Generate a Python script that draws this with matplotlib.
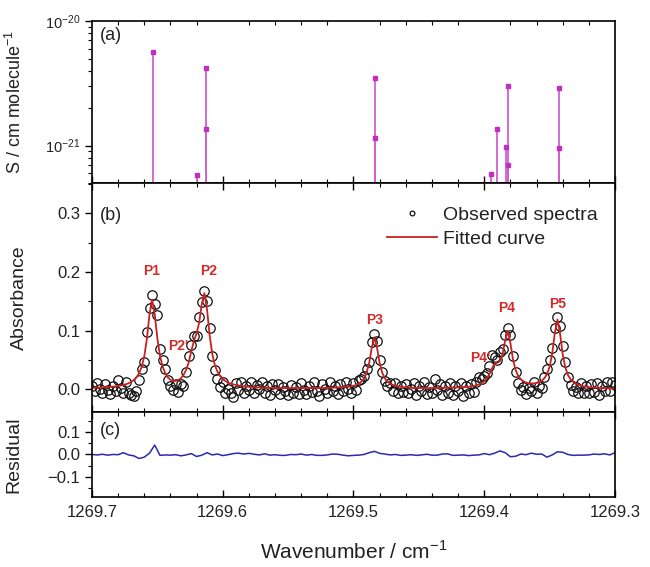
import matplotlib
matplotlib.use("Agg")
import matplotlib.pyplot as plt
from matplotlib.ticker import MultipleLocator, LogLocator, NullFormatter

plt.rcParams['font.family'] = ['Liberation Sans', 'DejaVu Sans']
plt.rcParams['mathtext.fontset'] = 'custom'
plt.rcParams['mathtext.rm'] = 'Liberation Sans'

# (a) line intensities
stick_x = [1269.6536, 1269.620, 1269.613, 1269.613, 1269.4836, 1269.4836,
           1269.3948, 1269.3903, 1269.3834, 1269.3816, 1269.3816, 1269.3426, 1269.3426]
stick_s = [5.6e-21, 5.8e-22, 4.2e-21, 1.37e-21, 3.5e-21, 1.14e-21,
           5.9e-22, 1.37e-21, 9.8e-22, 3.0e-21, 7.0e-22, 2.9e-21, 9.5e-22]

# (b) spectrum, 0.002 cm-1 grid from 1269.700 down to 1269.300
wn = [round(1269.700 - 0.002 * k, 3) for k in range(201)]
fit = [0.0020, 0.0022, 0.0024, 0.0026, 0.0028, 0.0031, 0.0035, 0.0038, 0.0042, 0.0047,
       0.0054, 0.0062, 0.0072, 0.0084, 0.0100, 0.0124, 0.0156, 0.0200, 0.0270, 0.0380,
       0.0560, 0.0860, 0.1280, 0.1530, 0.1280, 0.0870, 0.0570, 0.0390, 0.0270, 0.0200,
       0.0160, 0.0140, 0.0140, 0.0155, 0.0185, 0.0240, 0.0330, 0.0460, 0.0650, 0.0830,
       0.0950, 0.1140, 0.1460, 0.1640, 0.1360, 0.0920, 0.0600, 0.0410, 0.0296, 0.0224,
       0.0174, 0.0139, 0.0114, 0.0095, 0.0081, 0.0071, 0.0062, 0.0055, 0.0048, 0.0044,
       0.0040, 0.0036, 0.0033, 0.0030, 0.0029, 0.0027, 0.0025, 0.0024, 0.0023, 0.0022,
       0.0021, 0.0020, 0.0020, 0.0019, 0.0019, 0.0018, 0.0018, 0.0018, 0.0018, 0.0018,
       0.0018, 0.0018, 0.0018, 0.0018, 0.0018, 0.0018, 0.0019, 0.0019, 0.0020, 0.0020,
       0.0021, 0.0022, 0.0024, 0.0026, 0.0029, 0.0032, 0.0036, 0.0040, 0.0045, 0.0051,
       0.0057, 0.0071, 0.0093, 0.0127, 0.0180, 0.0277, 0.0445, 0.0710, 0.0885, 0.0710,
       0.0448, 0.0280, 0.0182, 0.0130, 0.0094, 0.0073, 0.0058, 0.0048, 0.0040, 0.0035,
       0.0030, 0.0027, 0.0024, 0.0022, 0.0021, 0.0020, 0.0019, 0.0019, 0.0019, 0.0019,
       0.0019, 0.0020, 0.0020, 0.0021, 0.0021, 0.0022, 0.0023, 0.0024, 0.0025, 0.0026,
       0.0028, 0.0030, 0.0033, 0.0036, 0.0040, 0.0046, 0.0054, 0.0066, 0.0080, 0.0103,
       0.0134, 0.0185, 0.0258, 0.0358, 0.0434, 0.0450, 0.0475, 0.0593, 0.0830, 0.0991,
       0.0790, 0.0507, 0.0327, 0.0225, 0.0167, 0.0134, 0.0113, 0.0102, 0.0097, 0.0098,
       0.0105, 0.0120, 0.0144, 0.0186, 0.0256, 0.0380, 0.0607, 0.0959, 0.1190, 0.0953,
       0.0598, 0.0370, 0.0243, 0.0169, 0.0123, 0.0094, 0.0074, 0.0059, 0.0049, 0.0041,
       0.0035, 0.0030, 0.0026, 0.0023, 0.0020, 0.0018, 0.0016, 0.0015, 0.0013, 0.0012,
       0.0011]
obs = [0.006, -0.004, 0.011, 0.001, -0.007, 0.009, -0.001, -0.008, 0.006, -0.003,
       0.015, 0.002, -0.007, 0.012, -0.006, -0.010, -0.012, -0.004, 0.015, 0.034,
       0.046, 0.098, 0.138, 0.161, 0.146, 0.127, 0.069, 0.049, 0.035, 0.016,
       0.006, -0.002, 0.008, -0.005, 0.009, 0.006, 0.029, 0.056, 0.075, 0.091,
       0.091, 0.124, 0.148, 0.168, 0.150, 0.104, 0.056, 0.033, 0.018, 0.004,
       0.013, -0.006, 0.001, -0.007, -0.014, 0.011, -0.002, 0.012, -0.007, 0.006,
       -0.002, 0.012, -0.007, 0.007, 0.000, 0.013, -0.006, 0.005, -0.010, 0.008,
       -0.002, 0.009, -0.008, 0.004, -0.004, -0.010, 0.007, -0.006, 0.003, -0.008,
       0.010, -0.002, -0.009, 0.006, -0.005, 0.013, -0.003, -0.011, 0.008, 0.000,
       -0.007, 0.012, -0.004, 0.006, -0.009, 0.008, -0.004, 0.013, 0.001, -0.007,
       0.010, -0.001, 0.015, 0.017, 0.022, 0.034, 0.047, 0.081, 0.095, 0.083,
       0.049, 0.030, 0.014, 0.005, 0.011, -0.003, 0.010, -0.007, 0.006, -0.005,
       0.009, -0.007, 0.000, 0.010, -0.010, 0.005, -0.004, 0.012, -0.009, 0.004,
       -0.006, 0.018, -0.002, 0.008, -0.010, 0.006, -0.006, 0.011, -0.010, 0.005,
       -0.003, 0.011, -0.011, 0.005, -0.006, 0.009, -0.005, 0.013, 0.020, 0.018,
       0.023, 0.027, 0.040, 0.058, 0.055, 0.049, 0.064, 0.069, 0.093, 0.105,
       0.093, 0.057, 0.029, 0.011, -0.001, 0.003, -0.009, 0.002, -0.004, 0.012,
       -0.006, 0.006, 0.002, 0.021, 0.034, 0.050, 0.071, 0.104, 0.123, 0.107,
       0.074, 0.047, 0.020, 0.007, -0.004, 0.003, -0.007, 0.010, -0.007, 0.006,
       -0.007, 0.009, -0.005, 0.010, -0.010, 0.006, -0.004, 0.012, -0.003, 0.013,
       0.007]

# (c) residual, 0.004 cm-1 grid
res_wn = [round(1269.700 - 0.004 * k, 3) for k in range(101)]
resid = [0.000, -0.002, 0.001, -0.003, 0.000, -0.001, 0.008, -0.002, -0.006, -0.018,
         -0.012, 0.006, 0.042, -0.004, -0.002, -0.003, -0.001, -0.006, -0.002, 0.004,
         -0.009, -0.003, 0.008, -0.002, 0.002, -0.005, -0.001, 0.004, 0.006, 0.002,
         0.005, 0.001, -0.002, 0.003, -0.003, -0.001, -0.004, -0.004, 0.000, -0.001,
         0.002, -0.003, 0.000, -0.004, -0.004, -0.002, 0.002, 0.001, -0.003, -0.006,
         -0.004, -0.003, 0.000, 0.008, 0.014, 0.005, 0.002, -0.002, 0.000, -0.004,
         -0.003, -0.001, -0.004, -0.002, 0.001, -0.003, -0.003, 0.002, 0.003, -0.004,
         -0.003, -0.002, -0.005, -0.003, -0.002, 0.004, -0.001, 0.006, 0.016, 0.008,
         -0.010, -0.008, 0.002, -0.001, 0.006, 0.001, 0.002, -0.012, -0.002, 0.012,
         0.010, 0.000, -0.004, -0.003, -0.003, -0.002, 0.002, 0.000, 0.003, -0.002,
         0.008]

peak_names = ["P1", "P2'", "P2", "P3", "P4'", "P4", "P5"]
peak_x = [1269.654, 1269.634, 1269.611, 1269.484, 1269.403, 1269.383, 1269.344]
peak_y = [0.201, 0.074, 0.201, 0.118, 0.053, 0.138, 0.145]

tc = '#222222'
fig = plt.figure(figsize=(6.5, 5.67), dpi=100)
ax1 = fig.add_axes([0.1415, 0.6772, 0.8046, 0.2857])
ax2 = fig.add_axes([0.1415, 0.2734, 0.8046, 0.4038])
ax3 = fig.add_axes([0.1415, 0.1235, 0.8046, 0.1499])

ylo = 5.0e-22
ax1.vlines(stick_x, ylo, stick_s, color='#d060d0', lw=1.3)
ax1.plot(stick_x, stick_s, 's', color='#c030c0', ms=3.5, mec='#c030c0')
ax1.set_yscale('log')
ax1.set_ylim(ylo, 1e-20)
ax1.yaxis.set_major_locator(LogLocator(base=10, numticks=5))
ax1.yaxis.set_minor_locator(LogLocator(base=10, subs=range(2, 10), numticks=10))
ax1.yaxis.set_minor_formatter(NullFormatter())
ax1.set_ylabel('S / cm molecule$^{-1}$', fontsize=13, color=tc)
ax1.yaxis.set_label_coords(-0.128, 0.5)
ax1.text(0.015, 0.91, '(a)', transform=ax1.transAxes, fontsize=13, color=tc, va='center')

ax2.plot(wn, obs, 'o', mfc='none', mec='#111111', ms=6.8, mew=0.9, label='Observed spectra')
ax2.plot(wn, fit, '-', color='#cc1f1f', lw=1.3, label='Fitted curve')
ax2.set_ylim(-0.039, 0.352)
ax2.yaxis.set_major_locator(MultipleLocator(0.1))
ax2.yaxis.set_minor_locator(MultipleLocator(0.05))
ax2.set_ylabel('Absorbance', fontsize=14, color=tc)
ax2.yaxis.set_label_coords(-0.122, 0.5)
ax2.text(0.015, 0.86, '(b)', transform=ax2.transAxes, fontsize=13, color=tc, va='center')
for name, px, py in zip(peak_names, peak_x, peak_y):
    ax2.text(px, py, name, color='#d42a2a', fontsize=10, fontweight='bold',
             ha='center', va='center', zorder=5)
leg = ax2.legend(loc='upper right', bbox_to_anchor=(0.99, 0.95), frameon=False,
                 fontsize=14, handlelength=2.6, borderaxespad=0.2, labelspacing=0.35,
                 markerscale=0.5, handletextpad=0.3)
for t in leg.get_texts():
    t.set_color(tc)

ax3.plot(res_wn, resid, '-', color='#2a2ab0', lw=1.1)
ax3.set_ylim(-0.19, 0.19)
ax3.yaxis.set_major_locator(MultipleLocator(0.1))
ax3.yaxis.set_minor_locator(MultipleLocator(0.05))
ax3.set_ylabel('Residual', fontsize=14, color=tc)
ax3.yaxis.set_label_coords(-0.134, 0.5)
ax3.text(0.015, 0.78, '(c)', transform=ax3.transAxes, fontsize=13, color=tc, va='center')
ax3.set_xlabel('Wavenumber / cm$^{-1}$', fontsize=15, color=tc, labelpad=14)

for ax in (ax1, ax2, ax3):
    ax.set_xlim(1269.7, 1269.3)
    ax.xaxis.set_major_locator(MultipleLocator(0.1))
    ax.xaxis.set_minor_locator(MultipleLocator(0.02))
    ax.tick_params(axis='x', which='both', direction='in', top=True, bottom=True)
    ax.tick_params(axis='x', which='major', length=5, width=1)
    ax.tick_params(axis='x', which='minor', length=3, width=0.8)
    ax.tick_params(axis='y', which='major', direction='out', length=5, width=1,
                   labelsize=12, labelcolor=tc)
    ax.tick_params(axis='y', which='minor', direction='out', length=3, width=0.8)
    for sp in ax.spines.values():
        sp.set_linewidth(1.2)
    if ax is not ax3:
        ax.tick_params(axis='x', labelbottom=False)
ax1.tick_params(axis='x', top=False)
ax1.tick_params(axis='y', which='major', labelsize=10.5)
ax3.tick_params(axis='x', labelsize=12, labelcolor=tc, pad=6)
ax3.xaxis.set_major_formatter(plt.FuncFormatter(lambda v, p: f"{v:.1f}"))

fig.savefig('out.png', dpi=100)
